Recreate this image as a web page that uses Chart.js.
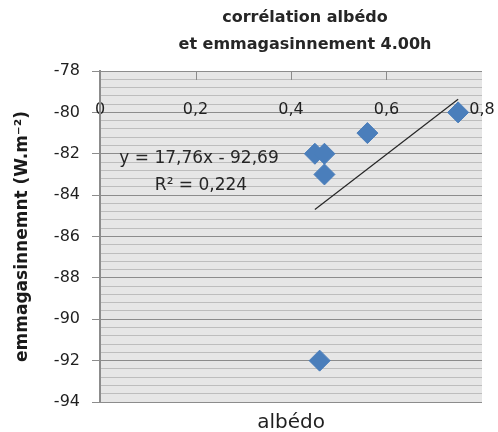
<!DOCTYPE html>
<html>
<head>
<meta charset="utf-8">
<script src="https://cdn.jsdelivr.net/npm/chart.js@4/dist/chart.umd.min.js"></script>
<style>
  html, body { margin: 0; padding: 0; background: #ffffff; }
  #wrap { width: 498px; height: 432px; }
</style>
</head>
<body>
<div id="wrap"><canvas id="c" width="498" height="432"></canvas></div>
<script>
// Albedo vs. storage flux at 4:00
const albedo = [0.45, 0.47, 0.47, 0.56, 0.75, 0.46];
const storage = [-82, -82, -83, -81, -80, -92];

// Linear trend as reported on the chart
const trendSlope = 17.76;
const trendIntercept = -92.69;
const trendLabel = ['y = 17,76x - 92,69', 'R² = 0,224'];

const xTickLabels = ['0', '0,2', '0,4', '0,6', '0,8'];
const yTickLabels = ['-94', '-92', '-90', '-88', '-86', '-84', '-82', '-80', '-78'];

const titleLines = ['corrélation albédo', 'et emmagasinnement 4.00h'];
const yTitle = 'emmagasinnemnt (W.m⁻²)';
const xTitle = 'albédo';

const FONT = '"DejaVu Sans", "Open Sans", sans-serif';

const points = albedo.map((a, i) => ({ x: a, y: storage[i] }));
const xMin = Math.min(...albedo), xMax = Math.max(...albedo);
const trend = [xMin, xMax].map(x => ({ x: x, y: trendSlope * x + trendIntercept }));

const isMajor = v => Math.abs(v / 2 - Math.round(v / 2)) < 1e-6;

const decor = {
  id: 'decor',
  beforeDraw(chart) {
    const { ctx, chartArea: a } = chart;
    ctx.save();
    ctx.fillStyle = '#e6e6e6';
    ctx.fillRect(a.left, a.top, a.right - a.left, a.bottom - a.top);
    ctx.restore();
  },
  afterDatasetsDraw(chart) {
    const { ctx, chartArea: a, scales } = chart;
    ctx.save();
    // short marks along the top edge at inner x ticks
    ctx.strokeStyle = '#8c8c8c';
    ctx.lineWidth = 1;
    [0.2, 0.4, 0.6].forEach(v => {
      const px = Math.round(scales.x.getPixelForValue(v)) + 0.5;
      ctx.beginPath();
      ctx.moveTo(px, a.top);
      ctx.lineTo(px, a.top + 9);
      ctx.stroke();
    });
    // chart title
    ctx.fillStyle = '#262626';
    ctx.textAlign = 'center';
    ctx.textBaseline = 'middle';
    ctx.font = 'bold 16px ' + FONT;
    ctx.fillText(titleLines[0], 305, 18);
    ctx.fillText(titleLines[1], 305, 45);
    // trend equation
    ctx.font = '17px ' + FONT;
    ctx.fillStyle = '#262626';
    ctx.fillText(trendLabel[0], 199, 159);
    ctx.fillText(trendLabel[1], 201, 186);
    ctx.restore();
  }
};

new Chart(document.getElementById('c'), {
  type: 'scatter',
  data: {
    datasets: [
      {
        label: 'emmagasinnement',
        data: points,
        pointStyle: 'rectRot',
        pointRadius: 10.5,
        pointHoverRadius: 10.5,
        backgroundColor: '#4a7ebb',
        borderColor: '#4a7ebb',
        borderWidth: 1,
        order: 1
      },
      {
        label: 'tendance',
        type: 'line',
        data: trend,
        showLine: true,
        pointRadius: 0,
        borderColor: '#262626',
        borderWidth: 1.2,
        fill: false,
        order: 2
      }
    ]
  },
  options: {
    responsive: false,
    animation: false,
    events: [],
    layout: { padding: { top: 71, right: 16, bottom: 0, left: 0 } },
    plugins: {
      legend: { display: false },
      tooltip: { enabled: false },
      title: { display: false }
    },
    scales: {
      x: {
        type: 'linear',
        min: 0,
        max: 0.8,
        position: { y: -80 },
        grid: { display: false, drawTicks: false },
        border: { display: false },
        ticks: {
          stepSize: 0.2,
          padding: -12,
          color: '#1f1f1f',
          font: { family: FONT, size: 16 },
          maxRotation: 0,
          callback: (v, i) => xTickLabels[i]
        }
      },
      x2: {
        type: 'linear',
        position: 'bottom',
        min: 0,
        max: 0.8,
        grid: { display: false, drawTicks: false },
        border: { display: false },
        ticks: { display: false },
        title: {
          display: true,
          text: xTitle,
          color: '#1f1f1f',
          font: { family: FONT, size: 20 },
          padding: { top: 0, bottom: -3 }
        },
        afterFit: s => { s.height = 30; }
      },
      y: {
        type: 'linear',
        min: -94,
        max: -78,
        position: 'left',
        border: { display: true, color: '#8c8c8c', width: 2 },
        grid: {
          color: c => isMajor(c.tick.value) ? '#8c8c8c' : '#bdbdbd',
          tickColor: c => isMajor(c.tick.value) ? '#8c8c8c' : 'rgba(0,0,0,0)',
          lineWidth: 1,
          tickLength: 8
        },
        ticks: {
          stepSize: 0.4,
          autoSkip: false,
          padding: 12,
          color: '#1f1f1f',
          font: { family: FONT, size: 16 },
          callback: v => isMajor(v) ? yTickLabels[Math.round((v + 94) / 2)] : ''
        },
        title: {
          display: true,
          text: yTitle,
          color: '#1a1a1a',
          font: { family: FONT, size: 17, weight: 'bold' },
          padding: { top: 12, bottom: 0 }
        },
        afterFit: s => { s.width = 100; }
      }
    }
  },
  plugins: [decor]
});
</script>
</body>
</html>
